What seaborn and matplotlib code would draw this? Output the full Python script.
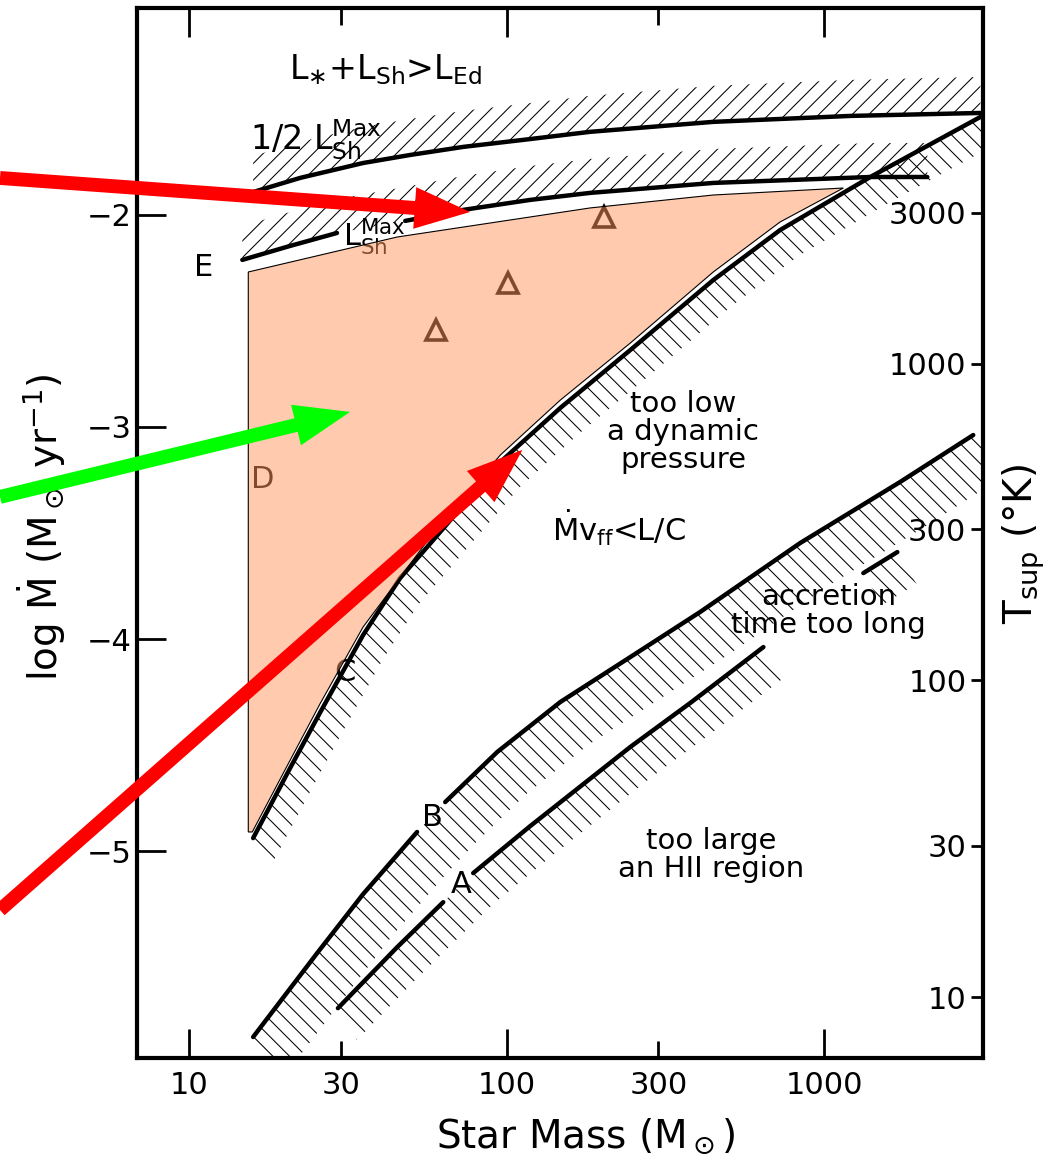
import numpy as np
import pandas as pd
import matplotlib
matplotlib.use("Agg")
import matplotlib.pyplot as plt
import seaborn as sns

# ---------------- data ----------------
# star mass (M_sun) and log Mdot (M_sun/yr) along each boundary curve
half_lsh_M = [15.9, 22.4, 35.3, 49.7, 73, 118.6, 183, 447, 1208, 3100]
half_lsh_v = [-1.892, -1.825, -1.755, -1.717, -1.679, -1.642, -1.608, -1.561, -1.533, -1.519]

lsh_left_M = [14.7, 20.8, 29.2]
lsh_left_v = [-2.212, -2.146, -2.085]
lsh_right_M = [47.9, 73, 118.6, 183, 447, 1396, 2110]
lsh_right_v = [-2.028, -1.976, -1.929, -1.896, -1.849, -1.821, -1.821]

c_M = [15.9, 20.8, 25.9, 35.3, 46.2, 58.7, 95.5, 147.5, 245, 447, 726, 1396, 3100]
c_v = [-4.939, -4.608, -4.344, -3.981, -3.712, -3.533, -3.165, -2.910, -2.637,
       -2.307, -2.071, -1.821, -1.538]

b_left_M = [15.9, 25.3, 35.3, 52.2]
b_left_v = [-5.877, -5.481, -5.203, -4.910]
b_right_M = [64.0, 93.3, 147.5, 245, 406, 840, 1734, 2944]
b_right_v = [-4.769, -4.533, -4.297, -4.085, -3.873, -3.547, -3.259, -3.038]

a_seg1_M = [29.4, 45.2, 63.1]
a_seg1_v = [-5.741, -5.453, -5.241]
a_seg2_M = [78.4, 118.6, 245, 378, 643]
a_seg2_v = [-5.104, -4.882, -4.509, -4.302, -4.038]
a_seg3_M = [1327, 1698]
a_seg3_v = [-3.689, -3.590]

# allowed (shaded) region
fill_M = [15.35, 45.2, 183, 447, 1148, 726, 447, 245, 147.5, 95.5, 58.7, 35.3,
          25.9, 20.8, 15.8, 15.35]
fill_v = [-2.269, -2.104, -1.967, -1.906, -1.873, -2.033, -2.269, -2.604, -2.873,
          -3.132, -3.500, -3.943, -4.302, -4.571, -4.910, -4.910]

# triangles
tri_M = [203, 101, 60]
tri_v = [-2.009, -2.321, -2.542]

# axis ticks
x_major = [10, 100, 1000]
x_minor = [30, 300]
y_ticks = [-2, -3, -4, -5]
y_ticklabels = ["\u22122", "\u22123", "\u22124", "\u22125"]
t_ticks = [10, 30, 100, 300, 1000, 3000]
# relation of right axis (T_sup) to left axis: v = T_V0 + T_SLOPE*(log T - log T0)
T0, T_V0, T_SLOPE = 3000, -1.99, 1.493

# arrow tips (data) and tail heights (figure fraction at left edge)
arrow_tip_M = [76.7, 32.1, 112]
arrow_tip_v = [-1.986, -2.929, -3.108]
arrow_tail_y = [0.8467, 0.572, 0.2162]
arrow_colors = ["#ff0000", "#00ff00", "#ff0000"]

# ---------------- figure ----------------
sns.set_theme(style="white")
plt.rcParams["font.family"] = ["DejaVu Sans"]
plt.rcParams["hatch.linewidth"] = 0.75
plt.rcParams["hatch.color"] = "black"

fig = plt.figure(figsize=(10.54, 11.61), dpi=100)
ax = fig.add_axes([137 / 1054, 1 - 1058 / 1161, 846 / 1054, 1050 / 1161])
ax.set_xscale("log")
ax.set_xlim(6.85, 3160)
ax.set_ylim(-5.976, -1.024)


def band(M, v, dlog, dv, hatch):
    M = np.asarray(M, float)
    v = np.asarray(v, float)
    xs = np.concatenate([M, (M * 10 ** dlog)[::-1]])
    ys = np.concatenate([v, (v + dv)[::-1]])
    ax.fill(xs, ys, fill=False, hatch=hatch, edgecolor="black", linewidth=0, zorder=2)


band(half_lsh_M, half_lsh_v, 0.0, 0.17, "//")
band(lsh_left_M + lsh_right_M, lsh_left_v + lsh_right_v, 0.0, 0.16, "//")
band(c_M, c_v, 0.06, -0.12, "\\\\")
band(b_left_M + b_right_M, b_left_v + b_right_v, 0.09, -0.20, "\\\\")
band(a_seg1_M + a_seg2_M, a_seg1_v + a_seg2_v, 0.06, -0.15, "\\\\")
band(a_seg3_M, a_seg3_v, 0.06, -0.15, "\\\\")

segments = [(half_lsh_M, half_lsh_v), (lsh_left_M, lsh_left_v), (lsh_right_M, lsh_right_v),
            (c_M, c_v), (b_left_M, b_left_v), (b_right_M, b_right_v),
            (a_seg1_M, a_seg1_v), (a_seg2_M, a_seg2_v), (a_seg3_M, a_seg3_v)]
for M, v in segments:
    sns.lineplot(x=M, y=v, ax=ax, color="black", linewidth=3.2, sort=False,
                 estimator=None, zorder=3)

# triangles (under the translucent fill -> appear brown)
ax.plot(tri_M, tri_v, ls="none", marker="^", ms=15, mfc="none", mec="black",
        mew=2.6, zorder=4)

txt = dict(color="black", ha="center", va="center")
ax.text(17.1, -3.25, "D", fontsize=22, zorder=4, **txt)
ax.text(38.3, -2.10, r"L$_{\mathrm{Sh}}^{\mathrm{Max}}$", fontsize=22, zorder=4, **txt)
ax.text(31, -4.156, "C", fontsize=22, zorder=4, **txt)

# shaded allowed region
ax.fill(fill_M, fill_v, facecolor=(1.0, 0.59, 0.36, 0.5), edgecolor="black",
        linewidth=0.8, zorder=5)

ax.text(11.07, -2.25, "E", fontsize=22, zorder=6, **txt)
ax.text(58.2, -4.84, "B", fontsize=22, zorder=6, **txt)
ax.text(72, -5.16, "A", fontsize=22, zorder=6, **txt)
ax.text(41.4, -1.316, r"L$_{\ast}$+L$_{\mathrm{Sh}}$>L$_{\mathrm{Ed}}$", fontsize=24, zorder=6, **txt)
ax.text(25.1, -1.646, r"1/2 L$_{\mathrm{Sh}}^{\mathrm{Max}}$", fontsize=24, zorder=6, **txt)
ax.text(360, -3.024, "too low\na dynamic\npressure", fontsize=21, linespacing=1.0, zorder=6, **txt)
ax.text(226, -3.472, r"$\dot{\mathrm{M}}$v$_{\mathrm{ff}}$<L/C", fontsize=22, zorder=6, **txt)
ax.text(1030, -3.868, "accretion\ntime too long", fontsize=21, linespacing=1.0, zorder=6, **txt)
ax.text(440, -5.019, "too large\nan HII region", fontsize=21, linespacing=1.0, zorder=6, **txt)

# arrows
for Mt, vt, yt, col in zip(arrow_tip_M, arrow_tip_v, arrow_tail_y, arrow_colors):
    ax.annotate("", xy=(Mt, vt), xycoords="data", xytext=(0.0, yt),
                textcoords="figure fraction", annotation_clip=False,
                arrowprops=dict(arrowstyle="simple,head_length=4.0,head_width=3.0,tail_width=1.0",
                                mutation_scale=10, color=col, shrinkA=0, shrinkB=0, lw=0),
                zorder=10)

# ticks
ax.set_xticks(x_major)
ax.set_xticklabels([str(t) for t in x_major])
ax.set_xticks(x_minor, minor=True)
ax.set_xticklabels([str(t) for t in x_minor], minor=True)
ax.tick_params(axis="x", which="major", direction="in", length=21, width=2,
               top=True, bottom=True, labelsize=22, pad=9, colors="black")
ax.tick_params(axis="x", which="minor", direction="in", length=12, width=2,
               top=True, bottom=True, labelsize=22, pad=9, colors="black")
ax.set_yticks(y_ticks)
ax.set_yticklabels(y_ticklabels)
ax.tick_params(axis="y", which="both", direction="in", length=21, width=2,
               left=True, right=False, labelsize=22, pad=4, colors="black")
ax.yaxis.set_minor_locator(matplotlib.ticker.NullLocator())

for s in ax.spines.values():
    s.set_linewidth(3)
    s.set_color("black")

ax2 = ax.twinx()
ax2.set_ylim(ax.get_ylim())
t_pos = [T_V0 + T_SLOPE * (np.log10(t) - np.log10(T0)) for t in t_ticks]
ax2.set_yticks(t_pos)
ax2.set_yticklabels([str(t) for t in t_ticks])
ax2.tick_params(axis="y", direction="in", length=9, width=2, labelsize=22,
                pad=-12, colors="black")
plt.setp(ax2.get_yticklabels(), ha="right")
for s in ax2.spines.values():
    s.set_visible(False)
ax2.grid(False)
ax.grid(False)

ax.set_xlabel(r"Star Mass (M$_\odot$)", fontsize=28, color="black")
ax.xaxis.set_label_coords(0.53, -0.056)
ax.set_ylabel(r"log $\dot{\mathrm{M}}$ (M$_\odot$ yr$^{-1}$)", fontsize=28, color="black")
ax.yaxis.set_label_coords(-0.082, 0.506)
ax2.set_ylabel(r"T$_{\mathrm{sup}}$ (°K)", fontsize=28, color="black")
ax2.yaxis.set_label_coords(1.02, 0.49)

fig.savefig("out.png", dpi=100)
